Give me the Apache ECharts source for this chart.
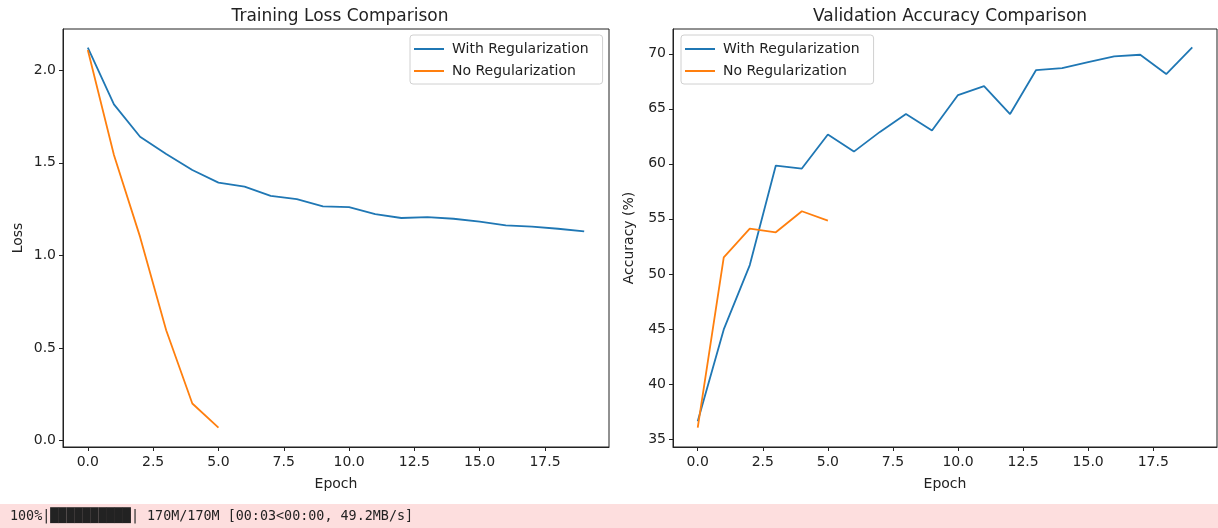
<!DOCTYPE html>
<html>
<head>
<meta charset="utf-8">
<script src="https://cdn.jsdelivr.net/npm/echarts@6/dist/echarts.min.js"></script>
<style>
html,body{margin:0;padding:0;background:#fff;}
#chart{width:1218px;height:528px;}
</style>
</head>
<body>
<div id="chart"></div>
<script>
const epochs = [0,1,2,3,4,5,6,7,8,9,10,11,12,13,14,15,16,17,18,19];
const lossWithReg = [2.122,1.816,1.641,1.548,1.461,1.393,1.371,1.322,1.304,1.265,1.261,1.223,1.202,1.207,1.198,1.182,1.162,1.155,1.144,1.130];
const lossNoReg = [2.110,1.542,1.100,0.596,0.200,0.070];
const accWithReg = [36.6,44.95,50.8,59.84,59.57,62.66,61.11,62.9,64.52,63.03,66.25,67.06,64.52,68.52,68.70,69.25,69.76,69.91,68.16,70.58];
const accNoReg = [36.04,51.5,54.11,53.78,55.69,54.84];
const xTicks = [0,2.5,5,7.5,10,12.5,15,17.5];
const lossTicks = [0,0.5,1.0,1.5,2.0];
const accTicks = [35,40,45,50,55,60,65,70];
const seriesNames = ['With Regularization','No Regularization'];
const titles = ['Training Loss Comparison','Validation Accuracy Comparison'];
const progressText = '100%|██████████| 170M/170M [00:03<00:00, 49.2MB/s]';

const BLUE = '#1f77b4', ORANGE = '#ff7f0e';
const FONT = 'DejaVu Sans';
const pairs = (xs, ys) => ys.map((v, i) => [xs[i], v]);

function xAxisDef(gi) {
  return {
    type: 'value', gridIndex: gi, min: -0.95, max: 19.95,
    name: 'Epoch', nameLocation: 'middle', nameGap: 30,
    nameTextStyle: {fontFamily: FONT, fontSize: 14, color: '#222'},
    axisLine: {show: true, onZero: false, lineStyle: {color: '#222', width: 1}},
    axisTick: {show: true, inside: false, length: 4, customValues: xTicks, lineStyle: {color: '#222'}},
    axisLabel: {show: true, customValues: xTicks, formatter: v => Number(v).toFixed(1), fontFamily: FONT, fontSize: 14, color: '#222', margin: 8},
    splitLine: {show: false}
  };
}
function yAxisDef(gi, min, max, ticks, fmt, name, gap) {
  return {
    type: 'value', gridIndex: gi, min: min, max: max,
    name: name, nameLocation: 'middle', nameGap: gap, nameRotate: 90,
    nameTextStyle: {fontFamily: FONT, fontSize: 14, color: '#222'},
    axisLine: {show: true, onZero: false, lineStyle: {color: '#222', width: 1}},
    axisTick: {show: true, inside: false, length: 4, customValues: ticks, lineStyle: {color: '#222'}},
    axisLabel: {show: true, customValues: ticks, formatter: fmt, fontFamily: FONT, fontSize: 14, color: '#222', margin: 7},
    splitLine: {show: false}
  };
}
function lineSeries(name, data, color, gi) {
  return {
    type: 'line', name: name, xAxisIndex: gi, yAxisIndex: gi, data: data,
    showSymbol: false, symbol: 'none', smooth: false,
    lineStyle: {color: color, width: 1.8}, itemStyle: {color: color},
    animation: false, z: 3
  };
}
function legendDef(pos) {
  return Object.assign({
    orient: 'vertical', data: seriesNames, icon: 'rect', itemWidth: 30, itemHeight: 2, itemGap: 8,
    backgroundColor: 'rgba(255,255,255,0.8)', borderColor: '#d0d0d0', borderWidth: 1, borderRadius: 3,
    padding: [7, 14, 6, 4],
    textStyle: {fontFamily: FONT, fontSize: 14, color: '#222', padding: [0,0,0,3]},
    selectedMode: false
  }, pos);
}

const chart = echarts.init(document.getElementById('chart'), null, {renderer: 'canvas'});
chart.setOption({
  animation: false,
  backgroundColor: '#fff',
  title: [
    {text: titles[0], left: 335, top: 3, textAlign: 'center', textStyle: {fontFamily: FONT, fontSize: 17, fontWeight: 'normal', color: '#222'}},
    {text: titles[1], left: 945, top: 3, textAlign: 'center', textStyle: {fontFamily: FONT, fontSize: 17, fontWeight: 'normal', color: '#222'}}
  ],
  grid: [
    {left: 63, width: 546, top: 29, height: 418, show: true, borderColor: '#222', borderWidth: 1, backgroundColor: 'transparent'},
    {left: 673, width: 544, top: 29, height: 418, show: true, borderColor: '#222', borderWidth: 1, backgroundColor: 'transparent'}
  ],
  xAxis: [xAxisDef(0), xAxisDef(1)],
  yAxis: [
    yAxisDef(0, -0.035, 2.223, lossTicks, v => Number(v).toFixed(1), 'Loss', 38),
    yAxisDef(1, 34.27, 72.25, accTicks, v => String(Math.round(v)), 'Accuracy (%)', 37)
  ],
  legend: [
    legendDef({left: 410, top: 35}),
    legendDef({left: 681, top: 35})
  ],
  series: [
    lineSeries(seriesNames[0], pairs(epochs, lossWithReg), BLUE, 0),
    lineSeries(seriesNames[1], pairs(epochs, lossNoReg), ORANGE, 0),
    lineSeries(seriesNames[0], pairs(epochs, accWithReg), BLUE, 1),
    lineSeries(seriesNames[1], pairs(epochs, accNoReg), ORANGE, 1)
  ],
  graphic: [
    {type: 'rect', left: 0, top: 504, shape: {width: 1218, height: 24}, style: {fill: '#fddede'}, silent: true},
    {type: 'text', left: 10, top: 510, style: {text: progressText, font: '13.4px "DejaVu Sans Mono"', fill: '#222'}, silent: true}
  ]
});
</script>
</body>
</html>
